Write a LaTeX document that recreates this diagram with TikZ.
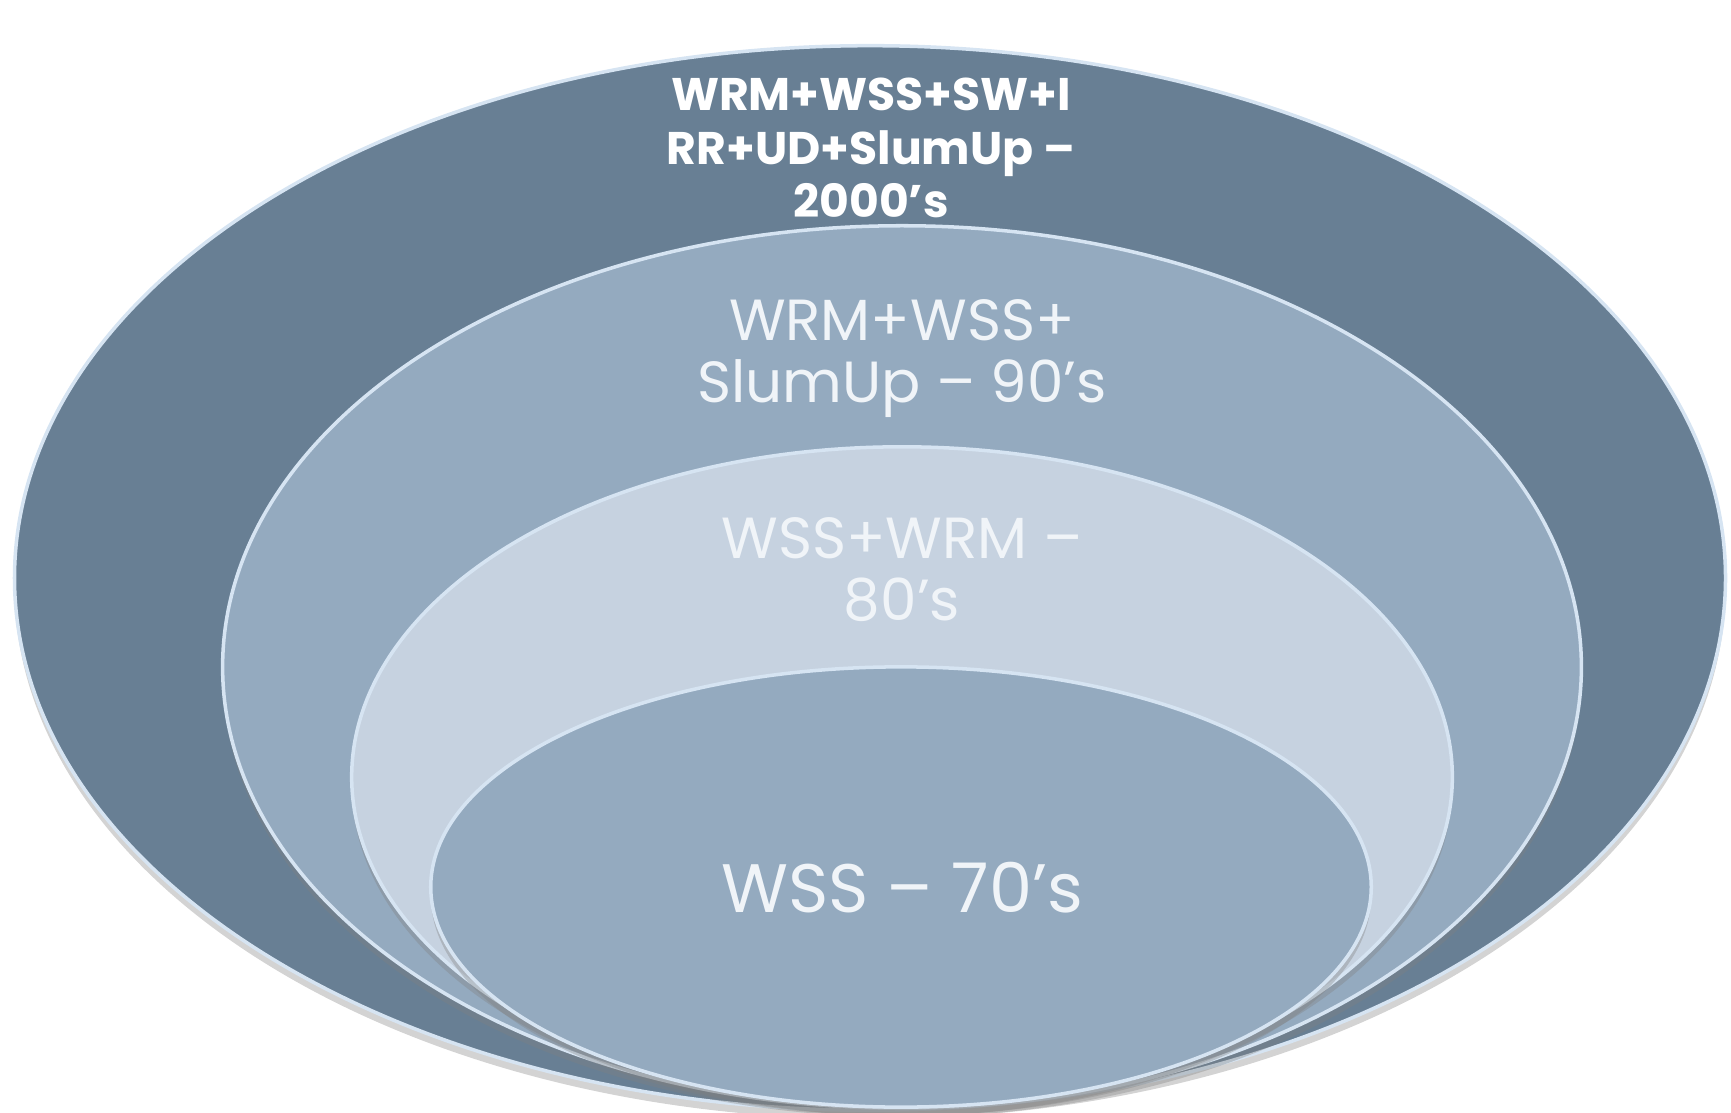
\documentclass[tikz,border=0pt]{standalone}
\usepackage{fontspec}
\setmainfont{Poppins}
\usetikzlibrary{shapes.geometric,shadows}

\definecolor{ringdark}{RGB}{104,127,148}
\definecolor{ringmid}{RGB}{148,170,191}
\definecolor{ringlight}{RGB}{198,210,224}
\definecolor{ringedge}{RGB}{214,228,242}
\definecolor{lbltext}{RGB}{240,244,248}

\tikzset{
	ring/.style={ellipse, inner sep=0pt, draw=ringedge, line width=1pt,
		drop shadow={shadow xshift=0pt, shadow yshift=-2.5pt, opacity=0.35}},
	lbl/.style={align=center, text=lbltext, inner sep=0pt}
}

\begin{document}
\begin{tikzpicture}[x=0.01cm,y=-0.01cm]
	\useasboundingbox (0,0) rectangle (1731,1113);

	% rings, outermost first
	\node [ring, fill=ringdark, minimum width=17.1cm, minimum height=10.64cm] (r2000) at (870,578) {};
	\node [ring, fill=ringmid, minimum width=13.58cm, minimum height=8.82cm] (r90) at (902,667) {};
	\node [ring, fill=ringlight, minimum width=11.0cm, minimum height=6.6cm] (r80) at (902,777) {};
	\node [ring, fill=ringmid, minimum width=9.4cm, minimum height=4.4cm] (r70) at (901,887) {};

	% labels
	\node [lbl, text=white, font=\bfseries\fontsize{13}{15.2}\selectfont] (l2000) at (871,148)
		{WRM+WSS+SW+I\\RR+UD+SlumUp –\\2000’s};
	\node [lbl, font=\fontsize{16.5}{17.6}\selectfont] (l90) at (902,359)
		{WRM+WSS+\\SlumUp – 90’s};
	\node [lbl, font=\fontsize{16.5}{17.6}\selectfont] (l80) at (902,570)
		{WSS+WRM –\\80’s};
	\node [lbl, font=\fontsize{19.5}{22}\selectfont] (l70) at (902,888)
		{WSS – 70’s};
\end{tikzpicture}
\end{document}
